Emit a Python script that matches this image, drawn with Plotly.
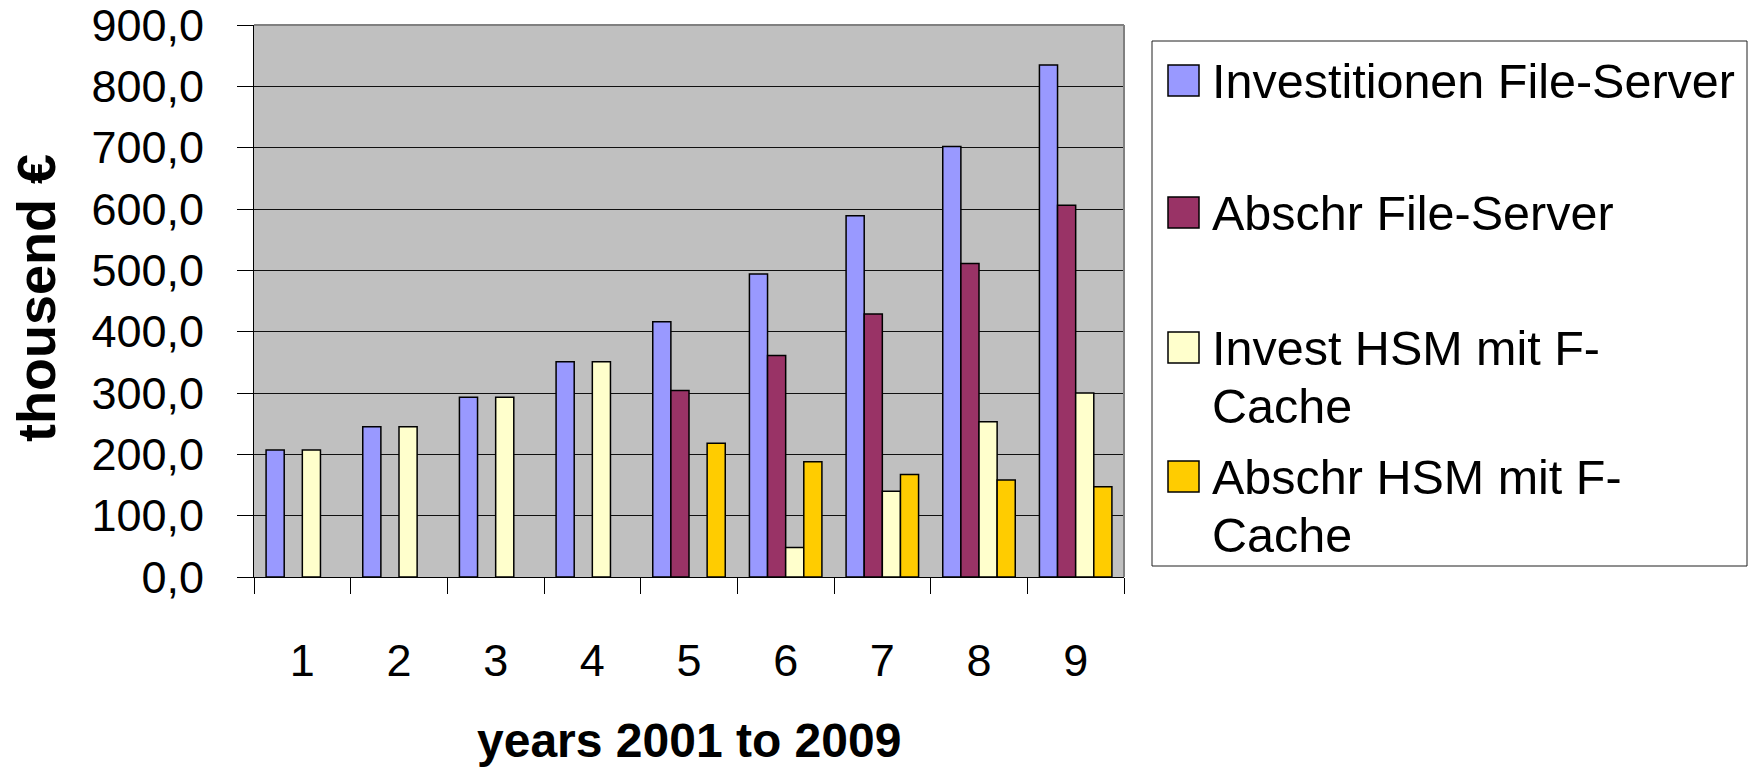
import plotly.graph_objects as go

# Years 1..9 (2001 to 2009), values in thousand EUR
years = ["1", "2", "3", "4", "5", "6", "7", "8", "9"]
invest_file_server = [207, 245, 293, 351, 416, 494, 589, 702, 835]
abschr_file_server = [None, None, None, None, 304, 361, 429, 511, 606]
invest_hsm = [207, 245, 293, 351, None, 48, 140, 253, 300]
abschr_hsm = [None, None, None, None, 218, 188, 167, 158, 147]

series_names = [
    "Investitionen File-Server",
    "Abschr File-Server",
    "Invest HSM mit F-<br>Cache",
    "Abschr HSM mit F-<br>Cache",
]
series_colors = ["#9999FF", "#993366", "#FFFFCC", "#FFCC00"]
y_ticks = [0, 100, 200, 300, 400, 500, 600, 700, 800, 900]

FONT = "Liberation Sans, Arial, sans-serif"
W, H = 1751, 768
L, R, T, B = 254, 1124, 25, 577  # plot area in pixels


def px_x(x):
    return (x - L) / (R - L)


def px_y(y):
    return (B - y) / (B - T)


fig = go.Figure()
for name, vals, col in zip(series_names, [invest_file_server, abschr_file_server, invest_hsm, abschr_hsm], series_colors):
    fig.add_trace(go.Bar(
        x=years, y=vals, name=name.replace("<br>", " "),
        marker=dict(color=col, line=dict(color="black", width=1.5)),
        hoverinfo="skip",
    ))

shapes = []
annotations = []

# gray frame on top and right of plot area
shapes.append(dict(type="line", xref="paper", yref="paper", x0=0, x1=1, y0=1, y1=1,
                   line=dict(color="#808080", width=2)))
shapes.append(dict(type="line", xref="paper", yref="paper", x0=1, x1=1, y0=0, y1=1,
                   line=dict(color="#808080", width=2)))

# legend box
shapes.append(dict(type="rect", xref="paper", yref="paper",
                   x0=px_x(1152), x1=px_x(1747), y0=px_y(566), y1=px_y(41),
                   line=dict(color="#202020", width=1), fillcolor="white", layer="below"))

entry_rows = [
    (79, ["Investitionen File-Server"]),
    (211, ["Abschr File-Server"]),
    (346, ["Invest HSM mit F-", "Cache"]),
    (475, ["Abschr HSM mit F-", "Cache"]),
]
line_step = 58
for (yc, lines), col in zip(entry_rows, series_colors):
    shapes.append(dict(type="rect", xref="paper", yref="paper",
                       x0=px_x(1168), x1=px_x(1199), y0=px_y(yc + 17), y1=px_y(yc - 14),
                       line=dict(color="black", width=1.5), fillcolor=col))
    for i, txt in enumerate(lines):
        annotations.append(dict(xref="paper", yref="paper", x=px_x(1210), y=px_y(yc + 2 + i * line_step),
                                xanchor="left", yanchor="middle", showarrow=False, text=txt,
                                font=dict(family=FONT, size=48.5, color="black")))

# axis titles
annotations.append(dict(xref="paper", yref="paper", x=px_x(689), y=px_y(740),
                        xanchor="center", yanchor="middle", showarrow=False,
                        text="<b>years 2001 to 2009</b>",
                        font=dict(family=FONT, size=48, color="black")))
annotations.append(dict(xref="paper", yref="paper", x=px_x(36), y=px_y(298),
                        xanchor="center", yanchor="middle", showarrow=False, textangle=-90,
                        text="<b>thousend €</b>",
                        font=dict(family=FONT, size=54, color="black")))

fig.update_layout(
    width=W, height=H,
    margin=dict(l=L, r=W - R, t=T, b=H - B, pad=0, autoexpand=False),
    paper_bgcolor="white", plot_bgcolor="#C0C0C0",
    barmode="group", bargap=0.25, bargroupgap=0,
    showlegend=False,
    separators=",.",
    font=dict(family=FONT, size=45, color="black"),
    shapes=shapes, annotations=annotations,
    xaxis=dict(
        type="category", tickson="boundaries", ticks="outside", ticklen=16,
        tickcolor="black", tickwidth=1, showgrid=False, showline=True,
        linecolor="black", linewidth=1, ticklabelstandoff=44, automargin=False,
        tickfont=dict(family=FONT, size=45, color="black"),
    ),
    yaxis=dict(
        range=[0, 900.05], tickvals=y_ticks, tickformat=".1f",
        ticks="outside", ticklen=16, tickcolor="black", tickwidth=1,
        showgrid=True, gridcolor="#101010", gridwidth=1, zeroline=False,
        showline=True, linecolor="black", linewidth=1, ticklabelstandoff=24,
        ticklabeloverflow="allow", automargin=False,
        tickfont=dict(family=FONT, size=45, color="black"),
    ),
)

fig.write_html("out.html")
